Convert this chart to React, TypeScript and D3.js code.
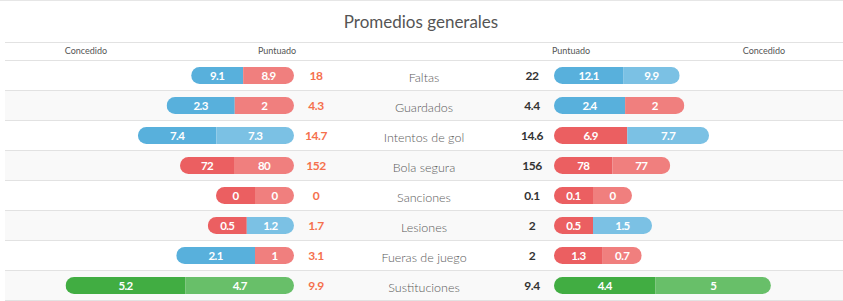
import * as d3 from 'd3';
import React from 'react';

// estadisticas por fila
const categorias = ['Faltas', 'Guardados', 'Intentos de gol', 'Bola segura', 'Sanciones', 'Lesiones', 'Fueras de juego', 'Sustituciones'];
const izqExterior = [9.1, 2.3, 7.4, 72, 0, 0.5, 2.1, 5.2];
const izqInterior = [8.9, 2, 7.3, 80, 0, 1.2, 1, 4.7];
const izqTotal = [18, 4.3, 14.7, 152, 0, 1.7, 3.1, 9.9];
const derInterior = [12.1, 2.4, 6.9, 78, 0.1, 0.5, 1.3, 4.4];
const derExterior = [9.9, 2, 7.7, 77, 0, 1.5, 0.7, 5];
const derTotal = [22, 4.4, 14.6, 156, 0.1, 2, 2, 9.4];
// tono de cada segmento: a = azul, r = rojo, v = verde
const tonoIzqExt = ['a', 'a', 'a', 'r', 'r', 'r', 'a', 'v'];
const tonoIzqInt = ['r', 'r', 'a', 'r', 'r', 'a', 'r', 'v'];
const tonoDerInt = ['a', 'a', 'r', 'r', 'r', 'r', 'r', 'v'];
const tonoDerExt = ['a', 'r', 'a', 'r', 'r', 'a', 'r', 'v'];
// maximo de la escala de cada estadistica
const escalaMax = [42, 8.1, 22.6, 320, 1, 6.1, 6.4, 10.4];
const encabezados = ['Concedido', 'Puntuado', 'Puntuado', 'Concedido'];

const W = 843;
const H = 301;
const FONT = 'Lato, "Noto Sans", sans-serif';

const colorOscuro = d3.scaleOrdinal<string, string>().domain(['a', 'r', 'v']).range(['#58b0dc', '#eb5f61', '#41ad42']);
const colorClaro = d3.scaleOrdinal<string, string>().domain(['a', 'r', 'v']).range(['#7bc1e4', '#f07f7e', '#68bf69']);

const BAR_H = 17;
const MIN_SEG = 39;

function segAncho(i: number, v: number) {
    const x = d3.scaleLinear().domain([0, escalaMax[i]]).range([0, 240]);
    return Math.max(MIN_SEG, x(v));
}

function Barra({ id, x0, y, segs }: { id: string; x0: number; y: number; segs: { w: number; color: string; v: number }[] }) {
    const total = d3.sum(segs, (s) => s.w);
    let acc = x0;
    return (
        <g>
            <clipPath id={id}>
                <rect x={x0} y={y - BAR_H / 2} width={total} height={BAR_H} rx={BAR_H / 2} ry={BAR_H / 2} />
            </clipPath>
            <g clipPath={`url(#${id})`}>
                {segs.map((s, k) => {
                    const sx = acc;
                    acc += s.w;
                    return <rect key={k} x={sx} y={y - BAR_H / 2} width={s.w} height={BAR_H} fill={s.color} />;
                })}
            </g>
            {(() => {
                let a = x0;
                return segs.map((s, k) => {
                    const cx = a + s.w / 2;
                    a += s.w;
                    return (
                        <text key={k} x={cx} y={y + 4} textAnchor="middle" fill="#fff" fontSize={11.5} fontWeight={700} letterSpacing={-0.6} fontFamily={FONT}>
                            {s.v}
                        </text>
                    );
                });
            })()}
        </g>
    );
}

export default function App() {
    const filas = d3.scaleBand<number>().domain(d3.range(categorias.length)).range([60, 300]);
    const finIzq = 294;
    const inicioDer = 554;
    const encX = [86, 277, 571, 764];

    return (
        <svg width={W} height={H} style={{ position: 'absolute', left: 0, top: 0, background: '#fff' }}>
            <line x1={0} x2={W} y1={0.5} y2={0.5} stroke="#e6e6e6" />
            <text x={421} y={28} textAnchor="middle" fontSize={17} fill="#555" fontFamily={FONT}>Promedios generales</text>
            {categorias.map((c, i) => (
                <rect key={'bg' + i} x={5} y={filas(i)!} width={W - 5} height={filas.bandwidth()} fill={i % 2 === 1 ? '#f9f9f9' : '#fff'} />
            ))}
            {d3.range(categorias.length + 2).map((k) => {
                const y = k === 0 ? 42.5 : 60.5 + (k - 1) * filas.bandwidth();
                return <line key={'ln' + k} x1={5} x2={W} y1={y} y2={y} stroke="#e2e2e2" />;
            })}
            {encabezados.map((t, k) => (
                <text key={'h' + k} x={encX[k]} y={54} textAnchor="middle" fontSize={9} fill="#555" fontFamily={FONT}>{t}</text>
            ))}
            {categorias.map((c, i) => {
                const y0 = filas(i)!;
                const cy = y0 + 15.5;
                const lSegs = [
                    { w: segAncho(i, izqExterior[i]), color: colorOscuro(tonoIzqExt[i]), v: izqExterior[i] },
                    { w: segAncho(i, izqInterior[i]), color: colorClaro(tonoIzqInt[i]), v: izqInterior[i] },
                ];
                const rSegs = [
                    { w: segAncho(i, derInterior[i]), color: colorOscuro(tonoDerInt[i]), v: derInterior[i] },
                    { w: segAncho(i, derExterior[i]), color: colorClaro(tonoDerExt[i]), v: derExterior[i] },
                ];
                const lTotal = d3.sum(lSegs, (s) => s.w);
                return (
                    <g key={'f' + i}>
                        <Barra id={`cl${i}`} x0={finIzq - lTotal} y={cy} segs={lSegs} />
                        <Barra id={`cr${i}`} x0={inicioDer} y={cy} segs={rSegs} />
                        <text x={316} y={cy + 4.5} textAnchor="middle" fontSize={12} fontWeight={700} fill="#f5704d" fontFamily={FONT} letterSpacing={-0.4}>{izqTotal[i]}</text>
                        <text x={424} y={cy + 6} textAnchor="middle" fontSize={12.5} fill="#5a5a5a" fontFamily={FONT} fontWeight={300}>{c}</text>
                        <text x={532} y={cy + 4.5} textAnchor="middle" fontSize={12} fontWeight={700} fill="#333" fontFamily={FONT} letterSpacing={-0.4}>{derTotal[i]}</text>
                    </g>
                );
            })}
        </svg>
    );
}
